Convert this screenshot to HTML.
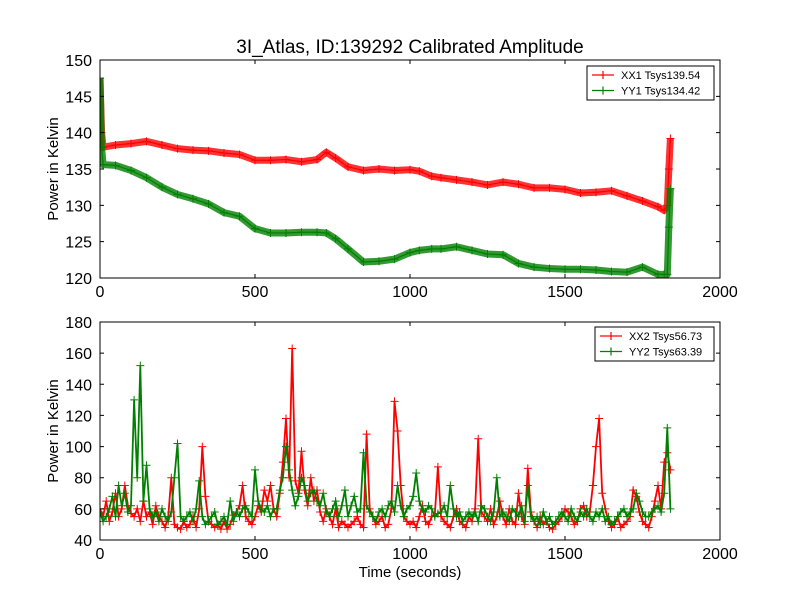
<!DOCTYPE html>
<html><head><meta charset="utf-8"><style>
body{margin:0;background:#fff}
svg{display:block;font-family:"Liberation Sans","DejaVu Sans",sans-serif}
</style></head><body>
<svg id="c" width="800" height="600"></svg>
<script>
const topT=[0,5,10,50,100,150,200,250,300,350,400,450,500,550,600,650,700,730,760,800,850,900,950,1000,1030,1070,1100,1150,1200,1250,1300,1350,1400,1450,1500,1550,1600,1650,1700,1750,1800,1820,1830,1835,1840];
const xx1=[147.5,140,138,138.3,138.5,138.8,138.3,137.8,137.6,137.5,137.2,137,136.2,136.2,136.3,136,136.3,137.3,136.5,135.3,134.8,135,134.8,134.9,134.7,134,133.8,133.5,133.2,132.8,133.2,132.9,132.4,132.4,132.2,131.7,131.8,132,131.3,130.6,129.8,129.3,130,135,139.2];
const yy1=[147.5,138,135.6,135.5,134.8,133.8,132.5,131.5,130.9,130.2,129,128.5,126.8,126.2,126.2,126.3,126.3,126.2,125.4,124,122.2,122.3,122.6,123.5,123.8,124,124,124.3,123.8,123.3,123.2,122,121.5,121.3,121.2,121.2,121.1,120.9,120.8,121.5,120.5,120.5,120.5,127,132.3];
const xx2=[60,55,65,52,58,70,55,60,75,62,57,55,60,52,65,55,58,50,62,55,52,48,55,80,50,48,47,52,48,50,55,48,60,100,68,52,50,48,50,47,52,47,50,56,58,62,75,55,52,50,55,62,58,72,65,75,60,55,70,90,118,80,163,78,70,97,72,62,80,65,72,58,52,60,55,50,60,48,52,50,48,50,52,55,50,48,108,60,55,50,52,55,48,50,60,129,110,75,55,52,50,52,48,55,62,52,50,55,56,87,55,52,50,48,55,60,52,50,48,55,52,60,105,58,55,52,60,50,55,65,55,50,60,52,50,70,55,50,86,58,52,48,55,50,52,48,47,50,52,55,60,58,55,50,52,60,62,55,58,75,100,118,70,60,52,48,50,55,48,50,52,55,72,68,58,52,50,48,55,65,75,60,90,96,85];
const yy2=[58,52,55,60,68,55,75,62,70,58,62,130,80,152,65,88,60,55,58,52,60,55,52,58,80,102,55,52,55,58,52,60,78,55,50,52,55,58,50,52,55,50,65,52,58,55,60,62,58,55,85,65,60,58,62,55,60,60,72,80,100,85,72,62,68,80,75,65,70,72,65,62,70,58,55,60,65,55,62,72,55,62,68,58,60,96,62,58,55,52,58,60,55,62,65,58,75,62,55,60,62,68,83,65,60,58,62,60,55,57,58,62,55,75,60,55,58,52,55,58,55,58,52,62,60,55,52,58,80,55,58,55,52,60,58,55,62,52,75,55,52,55,50,58,52,55,50,52,55,58,55,52,60,55,52,58,55,60,55,52,58,55,60,52,55,50,52,55,58,60,55,58,60,70,65,58,55,55,58,60,62,58,70,112,60];
const botT=xx2.map((_,i)=>i*10);
const xTicks=[0,500,1000,1500,2000];
const topTicks=[120,125,130,135,140,145,150];
const botTicks=[40,60,80,100,120,140,160,180];

const svg=document.getElementById('c');const NS='http://www.w3.org/2000/svg';
function el(t,a,p){const e=document.createElementNS(NS,t);for(const k in a)e.setAttribute(k,a[k]);(p||svg).appendChild(e);return e;}
const L=100,R=720;
const sx=v=>L+(v/2000)*(R-L);
function panel(name,top,bot,ymin,ymax,ticks,series,title,ylab,xlab,legend,bandW,lw){
  const sy=v=>bot-(v-ymin)/(ymax-ymin)*(bot-top);
  const g=el('g',{});
  
  
  el('rect',{x:L,y:top,width:R-L,height:bot-top,fill:'#fff'},g);
  const clip=el('clipPath',{id:name+'-clip'},g);el('rect',{x:L,y:top,width:R-L,height:bot-top},clip);
  const sg=el('g',{'clip-path':'url(#'+name+'-clip)'},g);
  series.forEach(s=>{
    const pts=s.t.map((t,i)=>sx(t)+','+sy(s.v[i])).join(' ');
    if(bandW){const b=el('polyline',{points:pts,fill:'none',stroke:s.c,'stroke-width':bandW,'stroke-linejoin':'round','stroke-opacity':0.8},sg);
      }
    const pl=el('polyline',{points:pts,fill:'none',stroke:s.c,'stroke-width':lw},sg);
    
    
    s.t.forEach((t,i)=>{const x=sx(t),y=sy(s.v[i]);
      const m=el('path',{d:`M${x-4},${y}h8M${x},${y-4}v8`,stroke:s.c,'stroke-width':1},sg);
      
      });
  });
  el('rect',{x:L,y:top,width:R-L,height:bot-top,fill:'none',stroke:'#000','stroke-width':1},g);
  xTicks.forEach(v=>{const x=sx(v);
    el('path',{d:`M${x},${bot}v-4M${x},${top}v4`,stroke:'#000'},g);
    const t=el('text',{x:x,y:bot+19,'font-size':16,'text-anchor':'middle'},g);t.textContent=v;
    });
  ticks.forEach(v=>{const y=sy(v);
    el('path',{d:`M${L},${y}h4M${R},${y}h-4`,stroke:'#000'},g);
    const t=el('text',{x:L-8,y:y+6,'font-size':16,'text-anchor':'end'},g);t.textContent=v;
    });
  if(title){const t=el('text',{x:410,y:top-7,'font-size':19,'text-anchor':'middle'},g);t.textContent=title;
    }
  const yl=el('text',{x:0,y:0,'font-size':15,'text-anchor':'middle',transform:`translate(58,${(top+bot)/2}) rotate(-90)`},g);yl.textContent=ylab;
  
  if(xlab){const t=el('text',{x:410,y:bot+37,'font-size':15,'text-anchor':'middle'},g);t.textContent=xlab;
    }
  const lg=el('g',{},g);
  
  el('rect',{x:legend.x,y:legend.y,width:R-6-legend.x,height:34,fill:'#fff',stroke:'#000','stroke-width':1},lg);
  series.forEach((s,i)=>{const y=legend.y+9+i*15.5;
    el('path',{d:`M${legend.x+5},${y}h22M${legend.x+16},${y-4}v8`,stroke:s.c,'stroke-width':1.2},lg);
    const t=el('text',{x:legend.x+34,y:y+4,'font-size':11},lg);t.textContent=s.label;
    });
}
panel('top-panel',60,278,120,150,topTicks,[
 {n:'xx1',t:topT,v:xx1,c:'#ff0000',label:'XX1 Tsys139.54'},
 {n:'yy1',t:topT,v:yy1,c:'#008000',label:'YY1 Tsys134.42'}],
 '3I_Atlas, ID:139292 Calibrated Amplitude','Power in Kelvin',null,{x:587,y:66},7,1.2);
panel('bottom-panel',322,540,40,180,botTicks,[
 {n:'xx2',t:botT,v:xx2,c:'#ff0000',label:'XX2 Tsys56.73'},
 {n:'yy2',t:botT,v:yy2,c:'#008000',label:'YY2 Tsys63.39'}],
 null,'Power in Kelvin','Time (seconds)',{x:595,y:327},0,1.8);
</script>
</body></html>
